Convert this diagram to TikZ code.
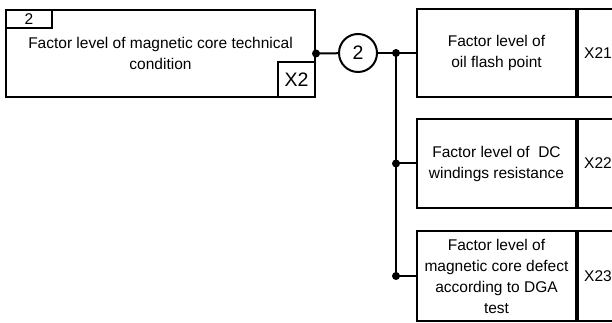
\documentclass[tikz,border=0pt]{standalone}
\usepackage{fontspec}
\setmainfont{Liberation Sans}
\usetikzlibrary{positioning}
\tikzset{
  blk/.style={draw, line width=2pt, align=center, inner sep=0pt, font=\fontsize{15.5}{21}\selectfont},
  big/.style={font=\fontsize{19.5}{22}\selectfont},
  dot/.style={circle, fill, inner sep=0pt, minimum size=8pt},
  wire/.style={line width=2pt}
}
\begin{document}
\begin{tikzpicture}[x=1pt, y=1pt]
	\useasboundingbox (0,0) rectangle (612,323);
	\clip (0,0) rectangle (612,323);
	% main block
	\node (main)[blk, minimum width=309pt, minimum height=87pt] at (160.5,269.5) {Factor level of magnetic core technical\\condition};
	\node (tab)[blk, anchor=north west, minimum width=46pt, minimum height=18pt] at (main.north west) {2};
	\node (x2)[blk, big, anchor=south east, minimum width=37pt, minimum height=35pt] at (main.south east) {X2};
	\node (c2)[blk, big, circle, minimum size=38pt] at (358,270) {2};
	% sub blocks
	\node (b1)[blk, minimum width=159pt, minimum height=88pt] at (496.5,270) {Factor level of\\oil flash point};
	\node (x21)[blk, anchor=west, minimum width=40pt, minimum height=88pt] at (b1.east) {X21};
	\node (b2)[blk, minimum width=159pt, minimum height=89pt] at (496.5,159.5) {Factor level of \ DC\\windings resistance};
	\node (x22)[blk, anchor=west, minimum width=40pt, minimum height=89pt] at (b2.east) {X22};
	\node (b3)[blk, minimum width=159pt, minimum height=90pt] at (496.5,47) {Factor level of\\magnetic core defect\\according to DGA\\test};
	\node (x23)[blk, anchor=west, minimum width=40pt, minimum height=90pt] at (b3.east) {X23};
	% junctions
	\node (d0)[dot] at (main.east) {};
	\node (j1)[dot] at (396,270) {};
	\node (j2)[dot] at (396,159.5) {};
	\node (j3)[dot] at (396,47) {};
	\draw[wire] (main.east)--(c2);
	\draw[wire] (c2)--(b1.west);
	\draw[wire] (j1.center)--(j3.center);
	\draw[wire] (j2.center)--(b2.west);
	\draw[wire] (j3.center)--(b3.west);
\end{tikzpicture}
\end{document}
